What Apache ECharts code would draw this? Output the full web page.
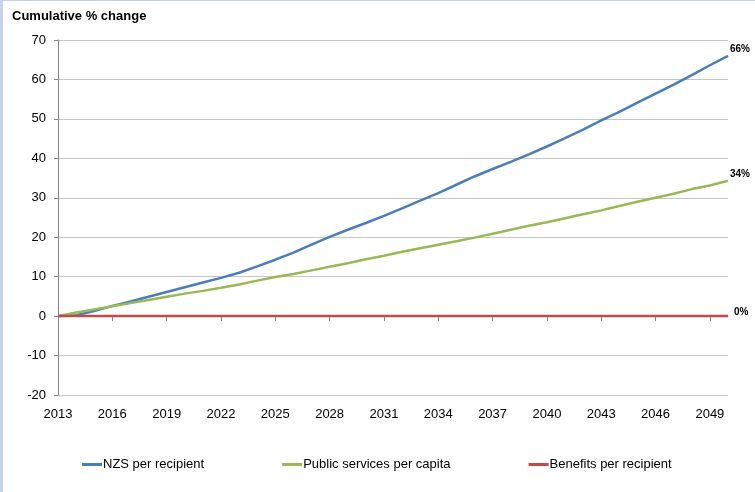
<!DOCTYPE html>
<html><head><meta charset="utf-8">
<script src="https://cdn.jsdelivr.net/npm/echarts@6/dist/echarts.min.js"></script>
<style>
html,body{margin:0;padding:0;background:#fff;}
#frame{position:absolute;left:0;top:0;width:755px;height:492px;box-sizing:border-box;border-left:3px solid #c5d3e8;border-top:1px solid #c5d3e8;}
#c{position:absolute;left:0;top:0;width:755px;height:492px;}
</style></head>
<body><div id="frame"></div><div id="c"></div>
<script>
const years = [2013,2014,2015,2016,2017,2018,2019,2020,2021,2022,2023,2024,2025,2026,2027,2028,2029,2030,2031,2032,2033,2034,2035,2036,2037,2038,2039,2040,2041,2042,2043,2044,2045,2046,2047,2048,2049,2050].map(String);
const nzs = [0,0.2,1.3,2.6,3.7,4.9,6.1,7.3,8.5,9.7,11.0,12.6,14.3,16.1,18.1,20.1,21.9,23.6,25.4,27.3,29.3,31.2,33.3,35.4,37.3,39.1,41.0,43.0,45.1,47.3,49.6,51.8,54.1,56.4,58.7,61.1,63.6,66.0];
const publicServices = [0,0.9,1.7,2.5,3.3,4.1,4.9,5.7,6.4,7.2,8.0,9.0,9.9,10.7,11.6,12.5,13.4,14.4,15.3,16.3,17.2,18.1,19.0,19.9,20.9,21.9,22.9,23.8,24.8,25.8,26.8,27.9,29.0,30.0,31.0,32.2,33.1,34.3];
const benefits = years.map(() => 0);
const endLabels = ['66%','34%','0%'];

const font = 'Liberation Sans, Arial, sans-serif';
const chart = echarts.init(document.getElementById('c'));
function mk(name, data, color, lbl, off){
  return {name, type:'line', data, xAxisIndex:0, symbol:'none', smooth:false,
    lineStyle:{color, width:2.5}, itemStyle:{color},
    endLabel:{show:true, formatter:lbl, fontFamily:font, fontSize:10, fontWeight:'bold', color:'#000', distance:2, offset:off},
    z:3};
}
chart.setOption({
  animation:false,
  title:{text:'Cumulative % change', left:7, top:5, textStyle:{fontFamily:font, fontSize:13, fontWeight:'bold', color:'#000'}},
  grid:{left:58, right:27, top:40, bottom:97},
  legend:{left:77, top:453, itemWidth:20, itemHeight:3, icon:'rect', itemGap:78,
    textStyle:{fontFamily:font, fontSize:13, color:'#000', padding:[0,0,0,-4]},
    data:['NZS per recipient','Public services per capita','Benefits per recipient']},
  xAxis:[
    {type:'category', data:years, boundaryGap:false, position:'bottom',
     axisLine:{show:false, onZero:false}, axisTick:{show:false},
     axisLabel:{interval:2, margin:13, fontFamily:font, fontSize:13, color:'#000'}},
    {type:'category', data:years, boundaryGap:false, position:'top',
     axisLine:{show:true, onZero:true, lineStyle:{color:'#868686'}},
     axisTick:{show:true, inside:true, interval:2, length:5, lineStyle:{color:'#868686'}},
     axisLabel:{show:false}}
  ],
  yAxis:{type:'value', min:-20, max:70, interval:10,
    axisLine:{show:true, lineStyle:{color:'#868686'}},
    axisTick:{show:true, length:4, lineStyle:{color:'#868686'}},
    splitLine:{lineStyle:{color:'#c6c6c6'}},
    axisLabel:{margin:12, fontFamily:font, fontSize:13, color:'#000'}},
  series:[
    mk('NZS per recipient', nzs, '#4a7ebb', endLabels[0], [0,-7]),
    mk('Public services per capita', publicServices, '#98b954', endLabels[1], [0,-7]),
    mk('Benefits per recipient', benefits, '#be4b48', endLabels[2], [4,-4])
  ]
});
</script></body></html>
